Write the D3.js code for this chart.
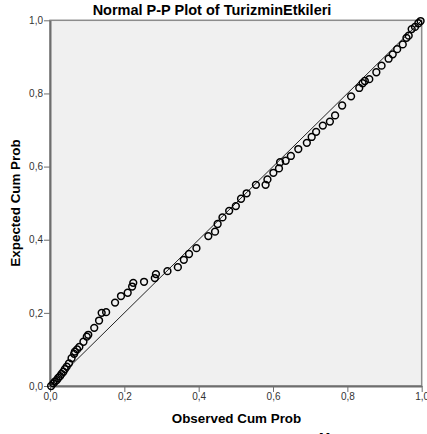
<!DOCTYPE html>
<html>
<head>
<meta charset="utf-8">
<script src="https://cdn.jsdelivr.net/npm/d3@7"></script>
<style>
  html, body { margin: 0; padding: 0; background: #fff; }
  svg { display: block; }
  text { font-family: Arial, "Liberation Sans", sans-serif; }
</style>
</head>
<body>
<svg id="chart" width="427" height="434"></svg>
<script>
const title = "Normal P-P Plot of TurizminEtkileri";
const xLabel = "Observed Cum Prob";
const yLabel = "Expected Cum Prob";
const tickValues = [0, 0.2, 0.4, 0.6, 0.8, 1.0];
const tickLabels = ["0,0", "0,2", "0,4", "0,6", "0,8", "1,0"];

const observed = [0.003,0.009,0.013,0.018,0.022,0.027,0.031,0.036,0.040,0.045,0.051,0.058,0.065,0.067,0.073,0.079,0.090,0.099,0.103,0.119,0.132,0.139,0.151,0.175,0.191,0.209,0.221,0.224,0.253,0.282,0.285,0.316,0.344,0.360,0.374,0.394,0.426,0.444,0.451,0.464,0.482,0.500,0.514,0.529,0.554,0.580,0.585,0.601,0.616,0.619,0.634,0.648,0.668,0.691,0.704,0.716,0.734,0.753,0.767,0.786,0.810,0.832,0.841,0.847,0.859,0.878,0.892,0.911,0.922,0.934,0.949,0.959,0.965,0.973,0.982,0.991,0.997];
const expected = [0.000,0.007,0.012,0.016,0.022,0.027,0.033,0.039,0.046,0.053,0.062,0.076,0.088,0.094,0.100,0.107,0.121,0.135,0.140,0.159,0.179,0.200,0.202,0.228,0.246,0.255,0.272,0.282,0.285,0.295,0.306,0.314,0.325,0.345,0.361,0.377,0.410,0.422,0.443,0.461,0.479,0.492,0.512,0.527,0.550,0.550,0.565,0.583,0.595,0.612,0.616,0.629,0.648,0.665,0.681,0.695,0.712,0.723,0.740,0.767,0.792,0.815,0.828,0.834,0.839,0.858,0.876,0.895,0.907,0.921,0.934,0.952,0.958,0.976,0.982,0.992,0.998];

(function () {
const svg = d3.select("#chart");
const mLeft = 50, mRight = 421.7, mTop = 20.3, mBottom = 386;

const x = d3.scaleLinear().domain([0, 1]).range([mLeft, mRight]);
const y = d3.scaleLinear().domain([0, 1]).range([mBottom, mTop]);

// plot background and frame
svg.append("rect")
  .attr("x", mLeft).attr("y", mTop)
  .attr("width", mRight - mLeft).attr("height", mBottom - mTop)
  .attr("fill", "#f0f0f0")
  .attr("stroke", "#8c8c8c").attr("stroke-width", 1.5);

// title
svg.append("text")
  .attr("x", 212).attr("y", 15)
  .attr("text-anchor", "middle")
  .attr("font-size", "14.5px").attr("font-weight", "bold")
  .attr("fill", "#000")
  .text(title);

// axes
const fmt = d => tickLabels[tickValues.indexOf(d)];
const xAxis = svg.append("g")
  .attr("transform", `translate(0,${mBottom})`)
  .call(d3.axisBottom(x).tickValues(tickValues).tickFormat(fmt).tickSize(6).tickSizeOuter(0));
const yAxis = svg.append("g")
  .attr("transform", `translate(${mLeft},0)`)
  .call(d3.axisLeft(y).tickValues(tickValues).tickFormat(fmt).tickSize(6).tickSizeOuter(0));

[xAxis, yAxis].forEach(g => {
  g.select(".domain").attr("stroke", "#6e6e6e").attr("stroke-width", 2);
  g.selectAll(".tick line").attr("stroke", "#6e6e6e").attr("stroke-width", 1);
  g.selectAll(".tick text")
    .attr("fill", "#333")
    .attr("font-size", "10px")
    .attr("font-family", "Arial, 'Liberation Sans', sans-serif");
});
xAxis.selectAll(".tick text").attr("dy", "0.71em").attr("y", 7);
yAxis.selectAll(".tick text").attr("x", -7);

// axis labels
svg.append("text")
  .attr("x", 236.5).attr("y", 423)
  .attr("text-anchor", "middle")
  .attr("font-size", "13.4px").attr("font-weight", "bold")
  .text(xLabel);
svg.append("text")
  .attr("transform", `translate(20,203) rotate(-90)`)
  .attr("text-anchor", "middle")
  .attr("font-size", "13.4px").attr("font-weight", "bold")
  .text(yLabel);

// clipped footnote fragment at the bottom edge
svg.append("text")
  .attr("x", 319).attr("y", 441.5)
  .attr("font-size", "13.4px").attr("font-weight", "bold")
  .text("M");

// reference diagonal
svg.append("line")
  .attr("x1", x(0)).attr("y1", y(0))
  .attr("x2", x(1)).attr("y2", y(1))
  .attr("stroke", "#222").attr("stroke-width", 1);

// points
svg.append("g")
  .selectAll("circle")
  .data(observed.map((o, i) => [o, expected[i]]))
  .join("circle")
  .attr("cx", d => x(d[0]))
  .attr("cy", d => y(d[1]))
  .attr("r", 3.4)
  .attr("fill", "none")
  .attr("stroke", "#000")
  .attr("stroke-width", 1.5);
})();
</script>
</body>
</html>
